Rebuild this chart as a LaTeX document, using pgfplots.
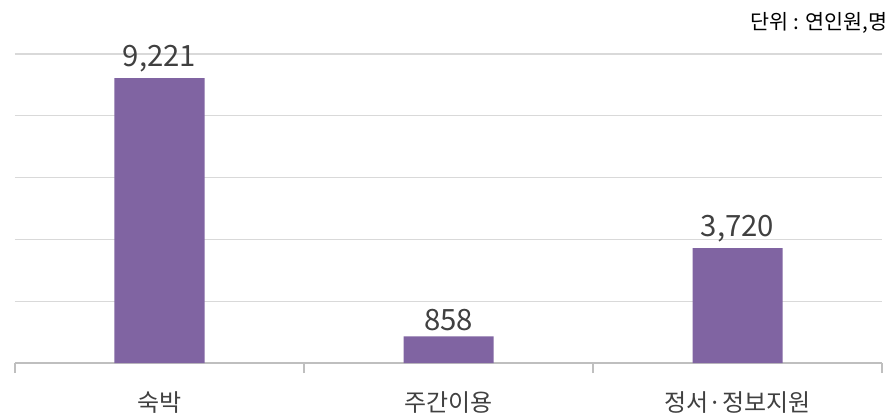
\documentclass[border=0pt]{standalone}
\usepackage{pgfplots}
\pgfplotsset{compat=1.18}
\usepackage{fontspec}
\setmainfont{Noto Sans CJK KR}
\definecolor{barpurple}{HTML}{8064A2}
\definecolor{gridgray}{HTML}{D9D9D9}
\definecolor{axgray}{HTML}{BFBFBF}
\definecolor{txtgray}{HTML}{404040}
\begin{document}
\begin{tikzpicture}[x=0.75pt,y=0.75pt]
\useasboundingbox (0,0) rectangle (893,419);
\begin{axis}[
  at={(15*0.75pt,56*0.75pt)}, anchor=south west,
  scale only axis,
  width=867*0.75pt, height=309*0.75pt,
  xmin=-0.5, xmax=2.5, ymin=0, ymax=10000,
  axis lines*=left,
  y axis line style={draw=none},
  ytick style={draw=none},
  yticklabels={},
  scaled y ticks=false,
  x axis line style={axgray, line width=1.2pt, -},
  xtick={0,1,2},
  xticklabels={숙박,주간이용,정서·정보지원},
  major x tick style={draw=none},
  minor xtick={-0.5,0.5,1.5,2.5},
  minor x tick style={axgray, line width=1.2pt},
  minor tick length=7.5pt,
  tick align=outside,
  xticklabel style={font=\fontsize{18}{20}\selectfont, text=txtgray, yshift=-14pt},
  ytick={2000,4000,6000,8000,10000},
  ymajorgrids,
  grid style={gridgray, line width=1pt},
  clip=false,
  nodes near coords,
  nodes near coords style={font=\fontsize{22}{24}\selectfont, text=txtgray, anchor=south, yshift=1pt,
    /pgf/number format/.cd, 1000 sep={,}},
  every node near coord/.append style={/pgf/number format/assume math mode=true},
]
\addplot[ybar, bar width=67.5pt, fill=barpurple, draw=none] coordinates {(0,9221) (1,858) (2,3720)};
\end{axis}
\node[anchor=east, font=\fontsize{15.5}{17}\selectfont, text=black] at (892,396) {단위 : 연인원,명};
\end{tikzpicture}
\end{document}
